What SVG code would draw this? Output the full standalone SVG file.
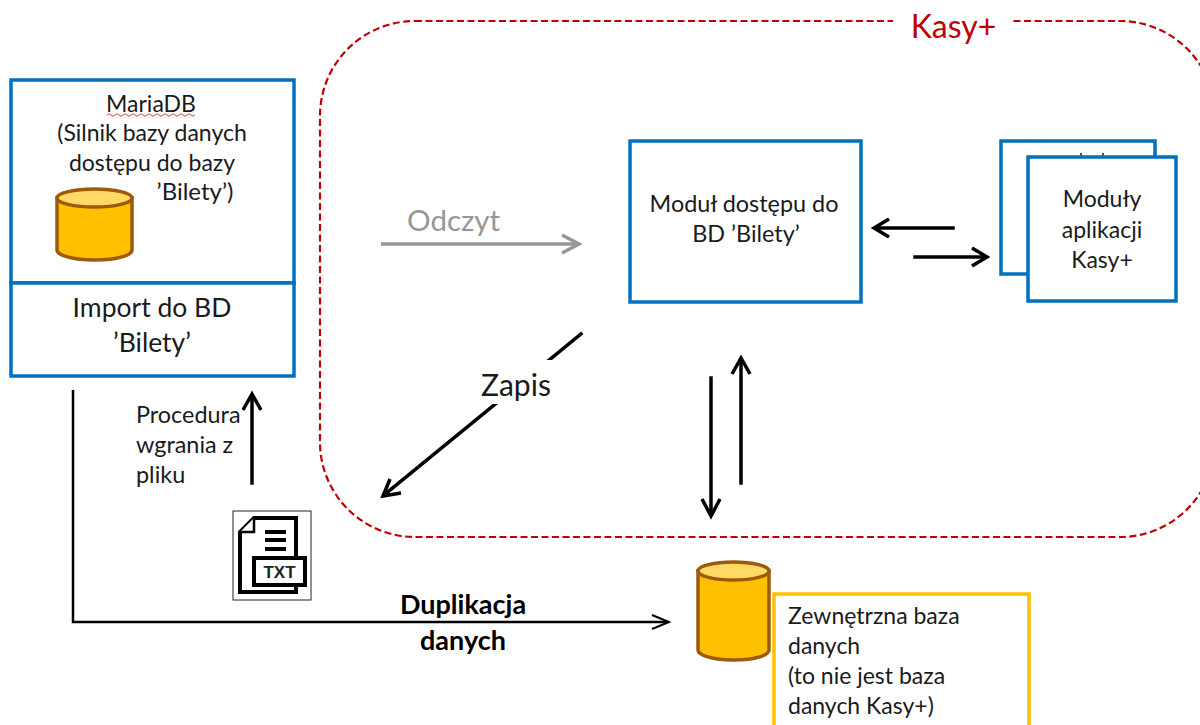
<svg xmlns="http://www.w3.org/2000/svg" width="1200" height="725" viewBox="0 0 1200 725">
<style>
text{font-family:Lato,"Open Sans","Liberation Sans",sans-serif;fill:#1a1a1a}
.t21{font-size:23px;text-anchor:middle}
.t20{font-size:23px}
.box{fill:#fff;stroke:#0070c0;stroke-width:3.500}
.cylb{fill:#ffc000;stroke:#9c5a0a;stroke-width:3.500}
.cylt{fill:#ffd966;stroke:#9c5a0a;stroke-width:3.500}
.a{fill:none;stroke:#000;stroke-width:3.500;stroke-linecap:square}
.ah{fill:none;stroke:#000;stroke-width:3.500}
</style>
<rect width="1200" height="725" fill="#fff"/>
<g id="kasy-frame">
<rect x="320" y="21" width="895" height="516" rx="95" ry="95" fill="none" stroke="#c00000" stroke-width="2.200" stroke-dasharray="7 3.500"/>
<rect x="893" y="8" width="119" height="30" fill="#fff"/>
<text x="953.500" y="38" style="font-size:32px;fill:#c00000;text-anchor:middle">Kasy+</text>
</g>
<g id="mariadb">
<rect class="box" x="11" y="80" width="283" height="203"/>
<text class="t21" x="151" y="112">MariaDB</text>
<path d="M107 115q2-2.500 4 0t4 0t4 0t4 0t4 0t4 0t4 0t4 0t4 0t4 0t4 0t4 0t4 0t4 0t4 0t4 0t4 0t4 0t4 0t4 0t4 0t4 0" fill="none" stroke="#e04040" stroke-width="1"/>
<text class="t21" x="152" y="141">(Silnik bazy danych</text>
<text class="t21" x="152" y="171">dostępu do bazy</text>
<text class="t21" x="195" y="200" style="font-size:24px">’Bilety’)</text>
<path class="cylb" d="M57 198V250C57 255 72 260 95 260S132 255 132 250V198Z"/>
<ellipse class="cylt" cx="94.500" cy="198" rx="37.500" ry="9"/>
</g>
<g id="import">
<rect class="box" x="11" y="283" width="283" height="93"/>
<text x="152" y="317" style="font-size:26.500px;text-anchor:middle">Import do BD</text>
<text x="152" y="352" style="font-size:26.500px;text-anchor:middle">’Bilety’</text>
</g>
<g id="modul-dostepu">
<rect class="box" x="630" y="141" width="231" height="161"/>
<text class="t21" x="744" y="212" style="font-size:23.400px">Moduł dostępu do</text>
<text class="t21" x="746" y="242" style="font-size:23.400px">BD  ’Bilety’</text>
</g>
<g id="moduly-aplikacji">
<rect class="box" x="1001" y="141" width="154" height="133"/>
<path d="M1081 153v4M1103 153v4" stroke="#1a1a1a" stroke-width="1.500"/>
<rect class="box" x="1028" y="157" width="148" height="144"/>
<text class="t21" x="1102" y="207">Moduły</text>
<text class="t21" x="1102" y="238">aplikacji</text>
<text class="t21" x="1102" y="268">Kasy+</text>
</g>
<g id="plik-txt">
<rect x="233" y="511" width="78" height="89" fill="#fff" stroke="#222" stroke-width="1"/>
<path d="M254 518H296V592H240V532Z" fill="#fff" stroke="#000" stroke-width="4"/>
<path d="M254 518V532H240" fill="#fff" stroke="#000" stroke-width="2.500"/>
<path d="M265 532H286M265 540H286M265 549H286" stroke="#000" stroke-width="4" fill="none"/>
<rect x="254" y="558" width="51" height="27" fill="#fff" stroke="#000" stroke-width="4"/>
<text x="279.500" y="578" style="font-family:'Liberation Sans',sans-serif;font-size:17px;font-weight:700;text-anchor:middle;fill:#222">TXT</text>
</g>
<g id="zewnetrzna-baza">
<path class="cylb" d="M698 571V650C698 655 712 660 734 660S769 655 769 650V571Z"/>
<ellipse class="cylt" cx="733.500" cy="571" rx="35.500" ry="9"/>
<rect x="774" y="594" width="255" height="140" fill="#fff" stroke="#ffc000" stroke-width="3.500"/>
<text class="t20" x="788" y="624">Zewnętrzna baza</text>
<text class="t20" x="788" y="654">danych</text>
<text class="t20" x="788" y="684">(to nie jest baza</text>
<text class="t20" x="788" y="714">danych Kasy+)</text>
</g>
<g id="connectors">
<path d="M381 244H578" fill="none" stroke="#969696" stroke-width="3.500"/>
<path d="M562 235L579 244L562 253" fill="none" stroke="#969696" stroke-width="3.500"/>
<path class="a" d="M581 334L384 495"/>
<path class="ah" d="M390 479L383 496L401 493"/>
<path class="a" d="M953 228H876"/>
<path class="ah" d="M889 219L874 228L889 237"/>
<path class="a" d="M915 257H985"/>
<path class="ah" d="M972 248L987 257L972 266"/>
<path class="a" d="M711 378V514"/>
<path class="ah" d="M702 499L711 516L720 499"/>
<path class="a" d="M741 483V360"/>
<path class="ah" d="M732 374L741 358L750 374"/>
<path class="a" d="M252 483V396"/>
<path class="ah" d="M243 410L252 394L261 410"/>
<path d="M73 390V622H668" fill="none" stroke="#000" stroke-width="2.500"/>
<path d="M652 615L669 622L652 629" fill="none" stroke="#000" stroke-width="2"/>
</g>
<g id="labels">
<text x="407" y="231" style="font-size:29.500px;fill:#969696">Odczyt</text>
<rect x="478" y="360" width="78" height="44" fill="#fff"/>
<text x="481" y="396" style="font-size:30px">Zapis</text>
<text class="t20" x="136" y="423" style="font-size:23.400px">Procedura</text>
<text class="t20" x="136" y="453" style="font-size:23.400px">wgrania z</text>
<text class="t20" x="136" y="483" style="font-size:23.400px">pliku</text>
<text x="463" y="614" style="font-size:27px;font-weight:700;text-anchor:middle;fill:#000">Duplikacja</text>
<text x="463" y="650" style="font-size:27px;font-weight:700;text-anchor:middle;fill:#000">danych</text>
</g>
</svg>
